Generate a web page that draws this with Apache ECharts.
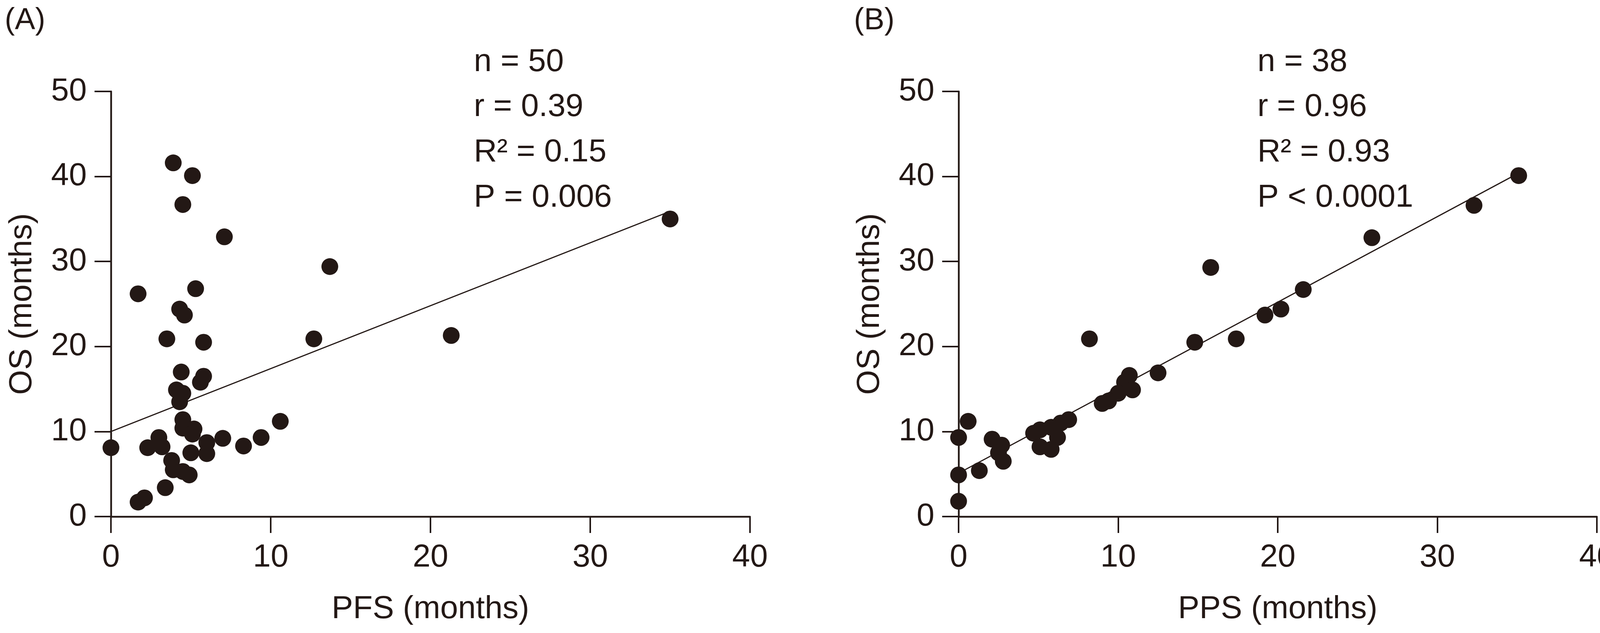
<!DOCTYPE html>
<html>
<head>
<meta charset="utf-8">
<script src="https://cdn.jsdelivr.net/npm/echarts@6/dist/echarts.min.js"></script>
<style>
  html, body { margin: 0; padding: 0; background: #fff; }
  #chart { width: 4148px; height: 1620px; }
</style>
</head>
<body>
<div id="chart"></div>
<script>
// panel A: PFS vs OS
const pfsA = [0, 1.7, 2.1, 2.3, 3.0, 3.2, 3.4, 3.8, 3.9, 4.5, 4.9, 5.0, 6.0, 6.0, 7.0, 8.3, 9.4, 10.6,
  4.5, 5.2, 5.1, 4.5, 4.3, 4.1, 4.5, 4.4, 5.6, 5.8, 3.5, 5.8, 12.7, 21.3, 4.3, 4.6, 1.7, 5.3,
  13.7, 7.1, 35.0, 4.5, 5.1, 3.9]
const osA = [8.1, 1.7, 2.2, 8.1, 9.3, 8.2, 3.4, 6.6, 5.5, 5.3, 4.9, 7.5, 7.4, 8.7, 9.2, 8.3, 9.3, 11.2,
  10.4, 10.3, 9.7, 11.4, 13.5, 14.9, 14.5, 17.0, 15.8, 16.5, 20.9, 20.5, 20.9, 21.3, 24.4, 23.7, 26.2, 26.8,
  29.4, 32.9, 35.0, 36.7, 40.1, 41.6]
const fitA = [[0, 10.0], [35.0, 35.9]]
const statsA = ['n = 50', 'r = 0.39', 'R² = 0.15', 'P = 0.006']

// panel B: PPS vs OS
const ppsB = [35.1, 32.3, 25.9, 15.8, 21.6, 19.2, 20.2, 17.4, 8.2, 14.8, 12.5, 10.7, 10.4, 10.9, 10.0,
  9.0, 9.4, 6.9, 6.4, 5.8, 5.1, 4.7, 6.2, 5.1, 5.8, 0.6, 0, 0, 0, 1.3, 2.1, 2.7, 2.5, 2.8]
const osB = [40.1, 36.6, 32.8, 29.3, 26.7, 23.7, 24.4, 20.9, 20.9, 20.5, 16.9, 16.6, 15.8, 14.9, 14.5,
  13.3, 13.6, 11.4, 11.0, 10.5, 10.2, 9.8, 9.3, 8.2, 7.9, 11.2, 9.3, 4.9, 1.8, 5.4, 9.1, 8.4, 7.5, 6.5]
const fitB = [[0, 5.1], [35.1, 40.4]]
const statsB = ['n = 38', 'r = 0.96', 'R² = 0.93', 'P < 0.0001']

const xTicks = { min: 0, max: 40, interval: 10 }
const yTicks = { min: 0, max: 50, interval: 10 }

const ink = '#231815'
const font = 'Liberation Sans, Arial, sans-serif'

const pairs = (xs, ys) => xs.map((x, i) => [x, ys[i]])

const xAxisOf = (gridIndex, name) => ({
  type: 'value',
  gridIndex,
  ...xTicks,
  name,
  nameLocation: 'middle',
  nameGap: 196,
  nameTextStyle: { fontSize: 82, color: ink, fontFamily: font },
  axisLine: { show: true, lineStyle: { color: ink, width: 4.5 } },
  axisTick: { show: true, length: 42, lineStyle: { color: ink, width: 4 } },
  axisLabel: { fontSize: 82, color: ink, margin: 64, fontFamily: font },
  splitLine: { show: false },
})

const yAxisOf = (gridIndex) => ({
  type: 'value',
  gridIndex,
  ...yTicks,
  name: 'OS (months)',
  nameLocation: 'middle',
  nameGap: 186,
  nameTextStyle: { fontSize: 82, color: ink, fontFamily: font },
  axisLine: { show: true, lineStyle: { color: ink, width: 4.5 } },
  axisTick: { show: true, length: 42, lineStyle: { color: ink, width: 4 } },
  axisLabel: { fontSize: 82, color: ink, margin: 62, fontFamily: font },
  splitLine: { show: false },
})

const statText = (lines, left) => lines.map((t, i) => ({
  type: 'text',
  left,
  top: 118 + i * 115.7,
  style: { text: t, fill: ink, font: '82px ' + font },
}))

const chart = echarts.init(document.getElementById('chart'))

const option = {
  animation: false,
  backgroundColor: '#fff',
  textStyle: { fontFamily: font },
  grid: [
    { left: 284, top: 234, width: 1636, height: 1088 },
    { left: 2454, top: 234, width: 1634, height: 1088 },
  ],
  xAxis: [xAxisOf(0, 'PFS (months)'), xAxisOf(1, 'PPS (months)')],
  yAxis: [yAxisOf(0), yAxisOf(1)],
  series: [
    {
      type: 'line', xAxisIndex: 0, yAxisIndex: 0, data: fitA, symbol: 'none', z: 1,
      lineStyle: { color: ink, width: 3 },
    },
    {
      type: 'scatter', xAxisIndex: 0, yAxisIndex: 0, data: pairs(pfsA, osA), z: 2,
      symbolSize: 43, itemStyle: { color: ink, opacity: 1 },
    },
    {
      type: 'line', xAxisIndex: 1, yAxisIndex: 1, data: fitB, symbol: 'none', z: 1,
      lineStyle: { color: ink, width: 3 },
    },
    {
      type: 'scatter', xAxisIndex: 1, yAxisIndex: 1, data: pairs(ppsB, osB), z: 2,
      symbolSize: 43, itemStyle: { color: ink, opacity: 1 },
    },
  ],
  graphic: [
    { type: 'text', left: 12, top: 14, style: { text: '(A)', fill: ink, font: '78px ' + font } },
    { type: 'text', left: 2186, top: 14, style: { text: '(B)', fill: ink, font: '78px ' + font } },
    ...statText(statsA, 1213),
    ...statText(statsB, 3219),
  ],
}
option && chart.setOption(option)
</script>
</body>
</html>
